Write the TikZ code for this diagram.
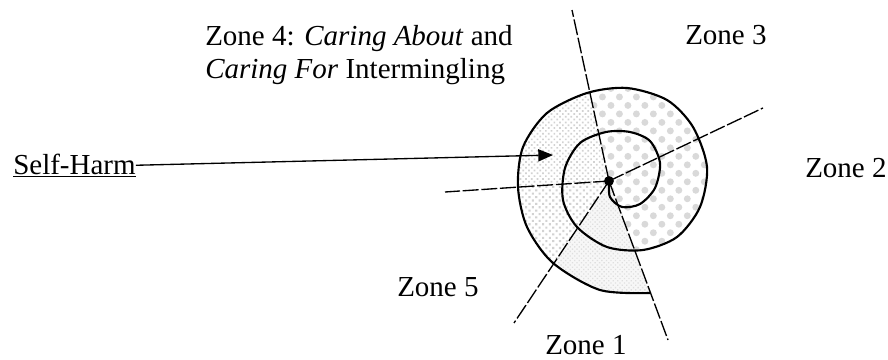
\documentclass[tikz,border=0pt]{standalone}
\usepackage{fontspec}
\setmainfont{Liberation Serif}
\usetikzlibrary{arrows.meta,patterns.meta,positioning}

\begin{document}
\begin{tikzpicture}[x=0.75pt,y=-0.75pt,>={Triangle[length=11pt,width=9pt]},
  zonelbl/.style={font=\fontsize{21.75pt}{24.75pt}\selectfont,inner sep=0pt},
  divider/.style={line width=1pt,dash pattern=on 12pt off 2pt},
  coil/.style={line width=1.6pt}]
  \useasboundingbox (0,0) rectangle (888,360);

  % centre and ends of the dividing lines
  \coordinate (c) at (609,181);
  \coordinate (t) at (572,10);
  \coordinate (ur) at (763,108);
  \coordinate (l) at (445,192);
  \coordinate (bl) at (514,323);
  \coordinate (br) at (668,340);

  % shading inside the outer turn
  \begin{scope}
    \clip plot[smooth] coordinates {(607,247) (643,250) (677,237) (700,207) (707,167)
      (693,127) (667,100) (627,88) (587,93) (547,113) (523,147) (518,187) (527,227)
      (553,263) (600,290) (650,293)} -- (c) -- cycle;
    % zones 2 and 3
    \fill[pattern={Dots[radius=2.6pt,distance=9pt,angle=45]},pattern color=gray!30]
      (c) -- (t) -- (ur) -- (br) -- cycle;
    % zone 4
    \fill[pattern={Dots[radius=0.9pt,distance=3pt,angle=45]},pattern color=gray!35]
      (c) -- (t) -- (l) -- cycle;
    % zone 5
    \fill[pattern={Dots[radius=1.1pt,distance=3.6pt,angle=45]},pattern color=gray!35]
      (c) -- (l) -- (bl) -- cycle;
    % zone 1
    \fill[gray!6] (c) -- (bl) -- (br) -- cycle;
    \fill[pattern={Dots[radius=0.7pt,distance=2.4pt,angle=45]},pattern color=gray!25]
      (c) -- (bl) -- (br) -- cycle;
  \end{scope}

  % spiral
  \draw[coil] plot[smooth] coordinates {(609,181) (610,197) (622,207) (640,204)
    (655,188) (660,163) (650,141) (630,132) (606,132) (580,143) (565,168)
    (563,200) (577,227) (607,247) (643,250) (677,237) (700,207) (707,167) (693,127)
    (667,100) (627,88) (587,93) (547,113) (523,147) (518,187) (527,227) (553,263)
    (600,290) (650,293)};

  % dividing lines
  \draw[divider] (c) -- (t);
  \draw[divider] (c) -- (ur);
  \draw[divider] (c) -- (l);
  \draw[divider] (c) -- (bl);
  \draw[divider] (c) -- (br);
  \fill (c) circle[radius=3.7pt];

  % labels
  \node[zonelbl,anchor=north west,align=left] (z4) at (205,25)
    {Zone 4: \textit{Caring About} and\\\textit{Caring For} Intermingling};
  \node[zonelbl,anchor=base west] (z3) at (685,45) {Zone 3};
  \node[zonelbl,anchor=base west] (z2) at (805,177) {Zone 2};
  \node[zonelbl,anchor=base west] (z5) at (397,296) {Zone 5};
  \node[zonelbl,anchor=base west] (z1) at (545,354) {Zone 1};
  \node[zonelbl,anchor=base west] (harm) at (13,174) {\underline{Self-Harm}};

  \coordinate (tip) at (553,155);
  \draw[->,line width=1pt] (harm.east) -- (tip);
\end{tikzpicture}
\end{document}
